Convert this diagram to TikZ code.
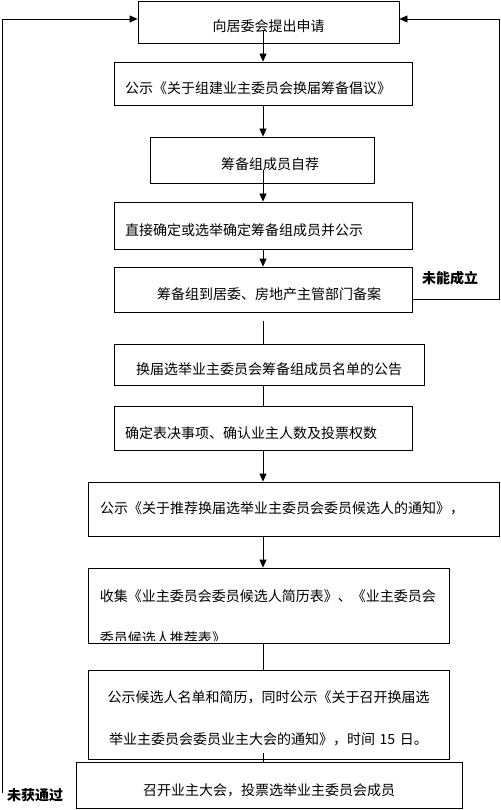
\documentclass[tikz,border=0pt]{standalone}
\usepackage{fontspec}
\setmainfont{Noto Sans CJK SC}
\usetikzlibrary{arrows.meta}
\tikzset{box/.style={draw, line width=0.8pt, inner xsep=11pt, inner ysep=0pt, text height=21pt, text depth=1pt, font=\fontsize{14}{42}\selectfont},
	leftbox/.style={box, align=left},
	arr/.style={-{Triangle[length=8pt,width=7pt]}, line width=0.8pt},
	link/.style={line width=0.8pt},
	note/.style={font=\fontsize{14}{14}\selectfont\bfseries}}

\begin{document}
\begin{tikzpicture}[x=1pt, y=-1pt]

					\useasboundingbox (0,0) rectangle (500,810);

					\node[box, minimum width=261pt, minimum height=42pt] (n1) at (268.5,22) {向居委会提出申请};
					\node[leftbox, minimum width=298pt, minimum height=43pt, text width=276pt] (n2) at (263,83.5) {公示《关于组建业主委员会换届筹备倡议》};
					\node[box, minimum width=224pt, minimum height=46pt] (n3) at (262,160) {\hspace*{16pt}筹备组成员自荐};
					\node[leftbox, minimum width=298pt, minimum height=47pt, text width=276pt] (n4) at (263,225.5) {直接确定或选举确定筹备组成员并公示};
					\node[box, minimum width=298pt, minimum height=45pt] (n5) at (263,289.5) {\hspace*{12pt}筹备组到居委、房地产主管部门备案};
					\node[box, minimum width=310pt, minimum height=41pt] (n6) at (269,364.5) {换届选举业主委员会筹备组成员名单的公告};
					\node[leftbox, minimum width=298pt, minimum height=44pt, text width=276pt] (n7) at (263,428) {确定表决事项、确认业主人数及投票权数};
					\node[leftbox, minimum width=411pt, minimum height=54pt, inner xsep=12pt, text width=387pt, text height=11.6pt, text depth=3pt] (n8) at (293.5,509) {公示《关于推荐换届选举业主委员会委员候选人的通知》，};
					\node[box, minimum width=361pt, minimum height=75pt] (n9) at (268.5,605.5) {};
					\begin{scope}
						\clip (n9.north west) rectangle ([yshift=2.5pt]n9.south east);
						\node[anchor=north west, inner sep=0pt, align=left, text width=340pt, text height=12pt, font=\fontsize{14}{42}\selectfont] (t9) at ([xshift=12pt, yshift=-21.3pt]n9.north west) {收集《业主委员会委员候选人简历表》、《业主委员会\\委员候选人推荐表》};
					\end{scope}
					\node[box, align=center, minimum width=361pt, minimum height=89pt, inner xsep=12pt, text width=337pt, text height=20pt, text depth=45pt] (n10) at (268.5,714.5) {公示候选人名单和简历，同时公示《关于召开换届选\\举业主委员会委员业主大会的通知》，时间 15 日。};
					\node[box, minimum width=386pt, minimum height=46pt] (n11) at (269,785) {召开业主大会，投票选举业主委员会成员};

					\node[note] (fail1) at (450,278) {未能成立};
					\node[note] (fail2) at (35,795) {未获通过};

					\draw[arr] (n2.north |- n1.south) ++(0,-12) -- (n2.north);
					\draw[arr] (n2.south) -- (n2.south |- n3.north);
					\draw[arr] (n4.north |- n3.south) ++(0,-13) -- (n4.north);
					\draw[arr] (n4.south) -- (n5.north);
					\draw[link] (n5.south) ++(0,9) -- (n5.south |- n6.north);
					\draw[link] (n7.north |- n6.south) -- (n7.north);
					\draw[arr] (n7.south) -- (n7.south |- n8.north);
					\draw[arr] (n8.south -| n7.south) -- (n9.north -| n7.south);
					\draw[link] (n9.south -| n7.south) -- (n10.north -| n7.south);
					\draw[link] (n10.south -| n7.south) ++(0,-6) -- (n11.north -| n7.south);

					\coordinate (r1) at (499,299);
					\coordinate (r2) at (499,19);
					\draw[arr] (n5.east |- r1) -- (r1) -- (r2) -- (n1.east |- r2);

					\coordinate (l1) at (2,793);
					\coordinate (l2) at (2,19);
					\draw[arr] (l1) -- (l2) -- (n1.west |- l2);

\end{tikzpicture}
\end{document}
